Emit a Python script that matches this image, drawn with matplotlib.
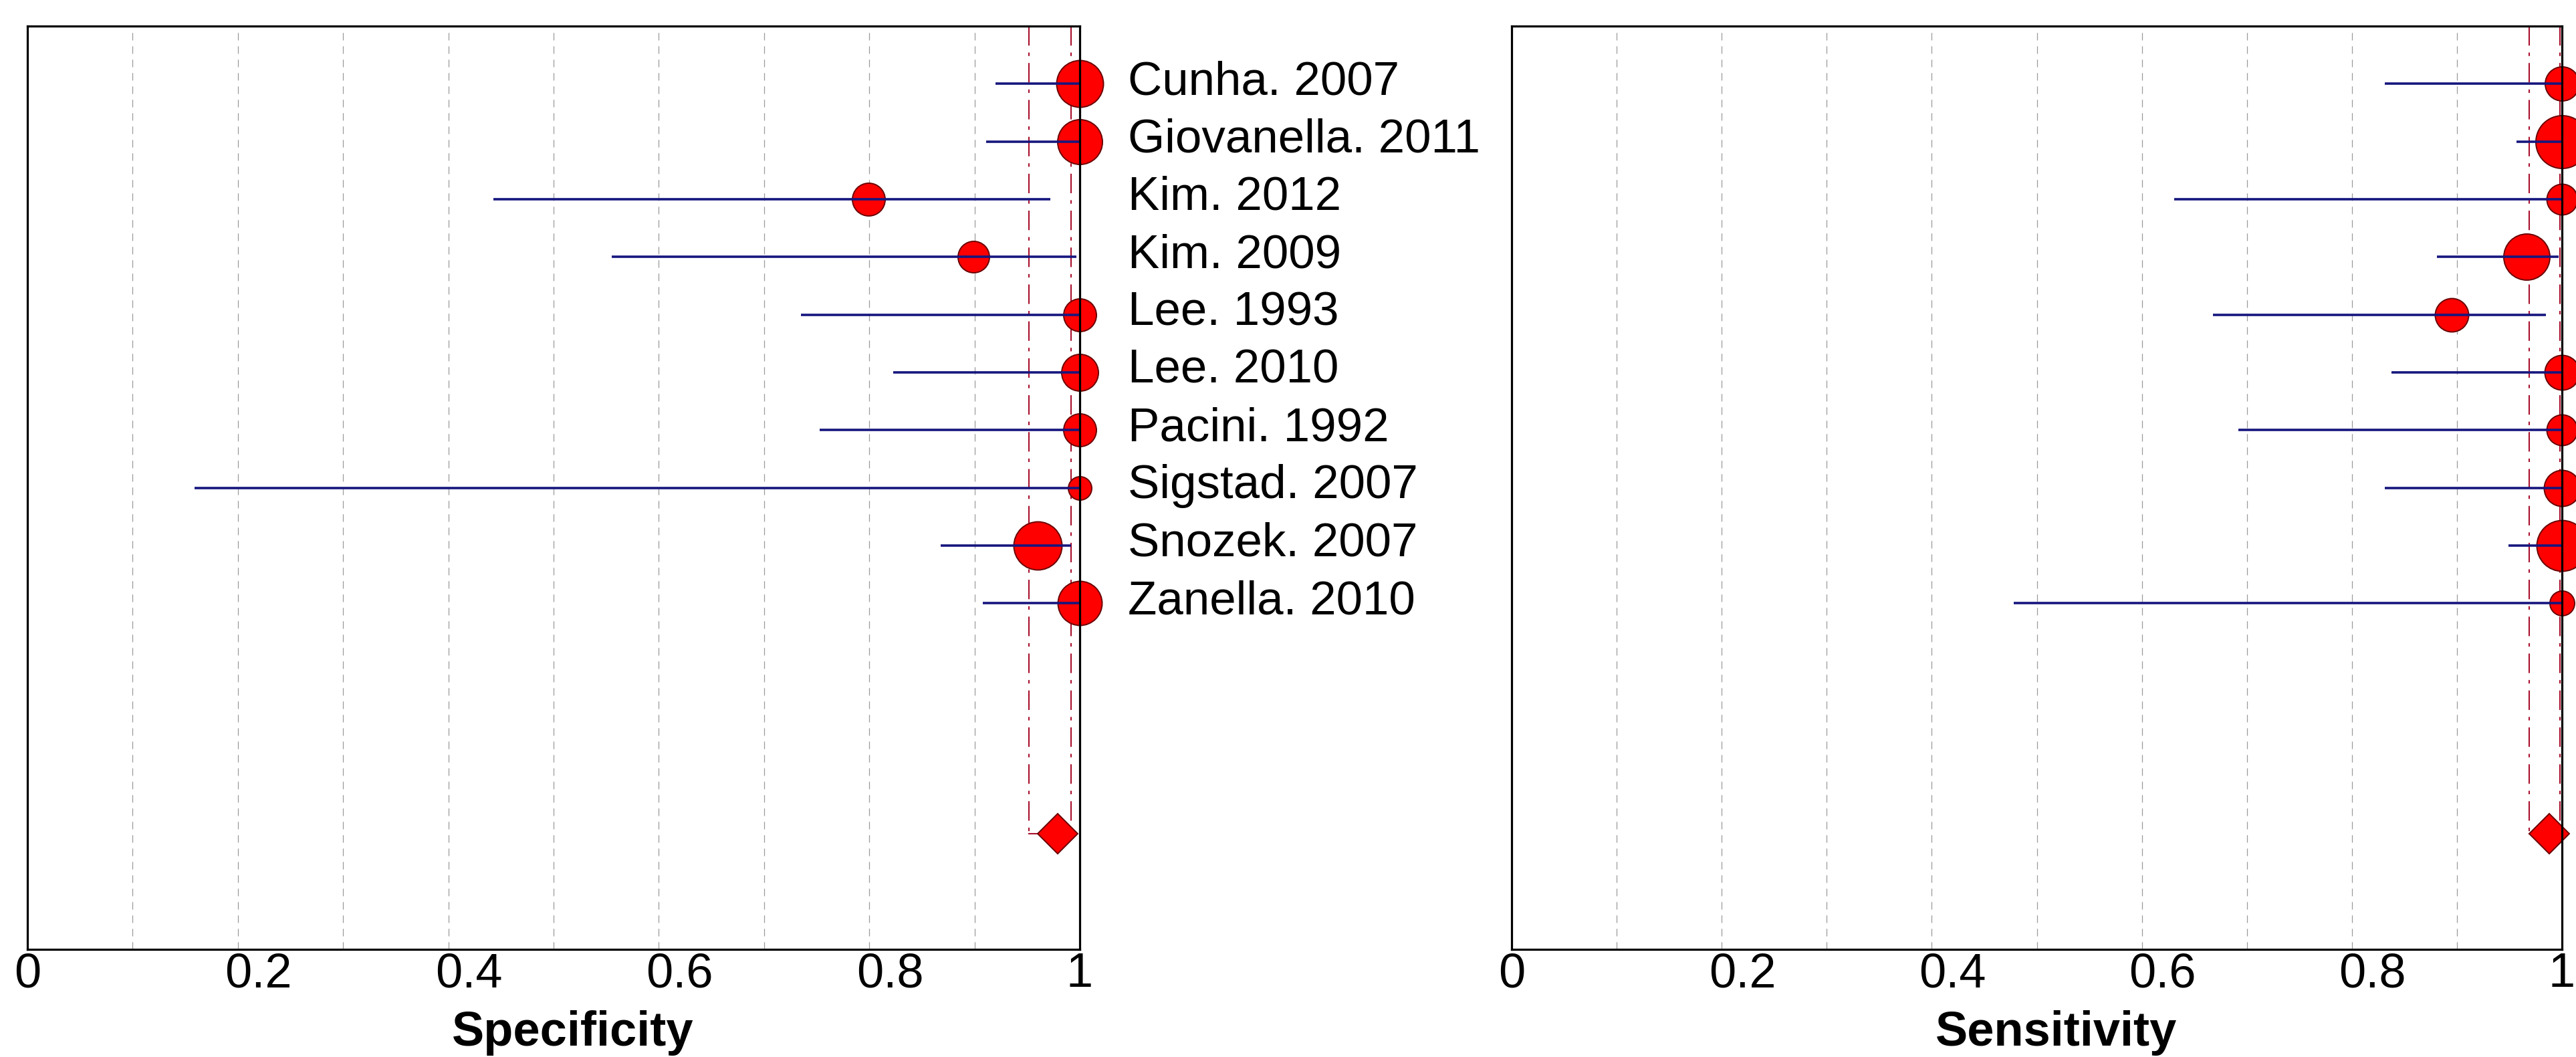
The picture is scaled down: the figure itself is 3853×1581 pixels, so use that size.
import numpy as np
import matplotlib
matplotlib.use("Agg")
import matplotlib.pyplot as plt
from matplotlib.transforms import ScaledTranslation

plt.rcParams['font.family'] = ['Liberation Sans', 'DejaVu Sans']

# data -----------------------------------------------------------------------
studies = ["Cunha. 2007", "Giovanella. 2011", "Kim. 2012", "Kim. 2009", "Lee. 1993",
           "Lee. 2010", "Pacini. 1992", "Sigstad. 2007", "Snozek. 2007", "Zanella. 2010"]

spec    = [1.00, 1.00, 0.799, 0.899, 1.00, 1.00, 1.00, 1.00, 0.960, 1.00]
spec_lo = [0.920, 0.911, 0.443, 0.555, 0.735, 0.823, 0.753, 0.159, 0.868, 0.908]
spec_hi = [1.00, 1.00, 0.972, 0.997, 1.00, 1.00, 1.00, 1.00, 0.992, 1.00]
spec_w  = [70, 67, 49, 47, 49, 55, 49, 35, 72, 66]   # marker diameter (study weight)
spec_pooled = [0.979, 0.952, 0.992]                   # estimate, lower, upper

sens    = [1.00, 1.00, 1.00, 0.966, 0.895, 1.00, 1.00, 1.00, 1.00, 1.00]
sens_lo = [0.831, 0.957, 0.631, 0.881, 0.668, 0.838, 0.692, 0.831, 0.949, 0.478]
sens_hi = [1.00, 1.00, 1.00, 0.997, 0.985, 1.00, 1.00, 1.00, 1.00, 1.00]
sens_w  = [51, 79, 46, 69, 50, 52, 46, 54, 76, 37]
sens_pooled = [0.988, 0.969, 0.998]

xticks = [0, 0.2, 0.4, 0.6, 0.8, 1]
xticklabels = ["0", "0.2", "0.4", "0.6", "0.8", "1"]

W, H, DPI = 3853, 1581, 100
fig = plt.figure(figsize=(W / DPI, H / DPI), dpi=DPI)

rows = np.arange(1, len(studies) + 1)
pooled_row = 14


def forest(ax, est, lo, hi, wts, pooled):
    ax.set_xlim(0, 1)
    ax.set_ylim(16, 0)
    for g in np.arange(0.1, 0.95, 0.1):
        ax.axvline(g, color='#9a9a9a', lw=0.9, ls=(0, (9, 7)), zorder=1)

    # pooled estimate: dash-dot CI lines + diamond
    est_p, lo_p, hi_p = pooled
    red_ls = (0, (14, 5, 2.5, 5))
    ax.plot([lo_p, lo_p], [0, pooled_row], color='#a8102c', lw=1.5, ls=red_ls, zorder=2)
    ax.plot([hi_p, hi_p], [0, pooled_row], color='#a8102c', lw=1.5, ls=red_ls, zorder=2)
    ax.plot([lo_p, est_p], [pooled_row, pooled_row], color='#a8102c', lw=1.5, zorder=2)
    ax.plot(est_p, pooled_row, 'D', ms=30.5, mfc='#ff0000', mec='#6a0000', mew=1.4,
            clip_on=False, zorder=5)

    for i in range(len(est)):
        ax.plot(est[i], rows[i], 'o', ms=wts[i] * 0.72, mfc='#ff0000', mec='#6a0000',
                mew=1.4, clip_on=False, zorder=3)
    ax.hlines(rows, lo, hi, color='#16167e', lw=2.6, zorder=4)

    ax.set_yticks([])
    ax.set_xticks(xticks)
    ax.set_xticklabels(xticklabels, fontsize=52)
    ax.tick_params(axis='x', length=0, pad=3)
    # middle labels sit a bit right of their grid line in the original
    shift = ScaledTranslation(0.31, 0, fig.dpi_scale_trans)
    for lbl in ax.get_xticklabels()[1:-1]:
        lbl.set_transform(lbl.get_transform() + shift)
    for s in ax.spines.values():
        s.set_linewidth(2.3)
        s.set_color('black')
        s.set_zorder(6)


ax1 = fig.add_axes([41 / W, 1 - 1420 / H, (1615 - 41) / W, (1420 - 39) / H])
forest(ax1, spec, spec_lo, spec_hi, spec_w, spec_pooled)
for r, name in zip(rows, studies):
    ax1.text(1.046, r + 0.185, name, fontsize=51, ha='left', va='baseline', clip_on=False)

ax2 = fig.add_axes([2261 / W, 1 - 1420 / H, (3832 - 2261) / W, (1420 - 39) / H])
forest(ax2, sens, sens_lo, sens_hi, sens_w, sens_pooled)

fig.text(857 / W, 17 / H, "Specificity", fontsize=52, fontweight='bold', ha='center', va='baseline')
fig.text(3076 / W, 17 / H, "Sensitivity", fontsize=52, fontweight='bold', ha='center', va='baseline')

fig.savefig("out.png", dpi=DPI, facecolor='white')
